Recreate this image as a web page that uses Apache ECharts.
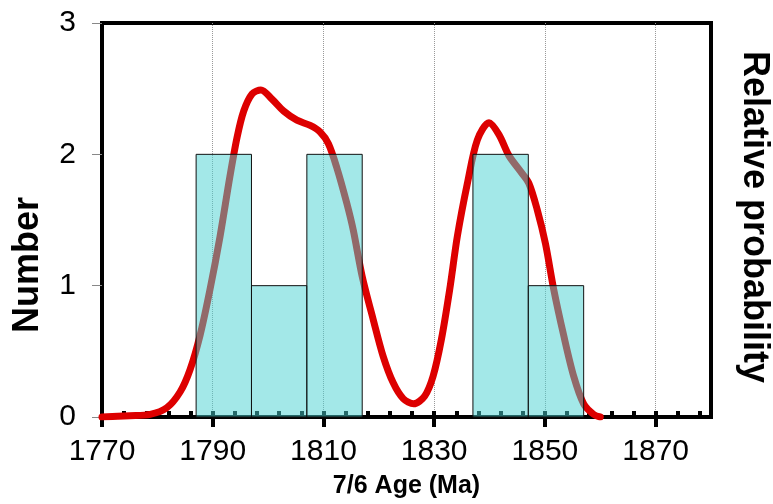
<!DOCTYPE html>
<html>
<head>
<meta charset="utf-8">
<script src="https://cdn.jsdelivr.net/npm/echarts@6/dist/echarts.min.js"></script>
<style>
  html, body { margin: 0; padding: 0; background: #fff; }
  #chart { width: 773px; height: 504px; }
</style>
</head>
<body>
<div id="chart"></div>
<script>
// histogram bins (Ma)
const binStarts = [1787, 1797, 1807, 1837, 1847]
const binEnds = [1797, 1807, 1817, 1847, 1857]
const binCounts = [2, 1, 2, 2, 1]

// relative probability curve
const pdfAges = [1770.0, 1775.0, 1778.7, 1781.7, 1784.1, 1785.9, 1787.7, 1789.5, 1791.3, 1793.1,
  1794.4, 1795.6, 1797.1, 1798.7, 1800.7, 1802.8, 1805.2, 1807.6, 1809.4, 1810.9,
  1812.4, 1814.2, 1815.4, 1817.0, 1819.0, 1820.8, 1822.6, 1824.4, 1826.3, 1828.3,
  1829.8, 1831.3, 1832.8, 1834.2, 1836.0, 1837.8, 1839.9, 1841.7, 1843.5, 1845.6,
  1847.1, 1848.6, 1850.1, 1851.6, 1853.4, 1855.2, 1857.0, 1858.8, 1860.0]
const pdfValues = [0.00, 0.01, 0.02, 0.07, 0.19, 0.36, 0.62, 0.97, 1.37, 1.83,
  2.13, 2.33, 2.46, 2.49, 2.42, 2.33, 2.26, 2.22, 2.17, 2.08,
  1.90, 1.63, 1.42, 1.07, 0.74, 0.46, 0.26, 0.14, 0.10, 0.16,
  0.31, 0.59, 0.97, 1.38, 1.78, 2.11, 2.24, 2.15, 1.99, 1.87,
  1.78, 1.58, 1.32, 0.97, 0.62, 0.31, 0.10, 0.02, 0.00]

// axis ticks
const majorTicks = [1770, 1790, 1810, 1830, 1850, 1870]
const minorTicks = [1774, 1778, 1782, 1786, 1790, 1794, 1798, 1802, 1806, 1810, 1814, 1818,
  1822, 1826, 1830, 1834, 1838, 1842, 1846, 1850, 1854, 1858, 1862, 1866, 1870, 1874, 1878]

const FONT = 'Liberation Sans, Arial, sans-serif'

const chart = echarts.init(document.getElementById('chart'))

const bins = binStarts.map((s, i) => [s, binEnds[i], binCounts[i]])
const pdf = pdfAges.map((a, i) => [a, pdfValues[i]])

const option = {
  animation: false,
  grid: {
    left: 102,
    right: 62,
    top: 23,
    bottom: 87,
    show: true,
    borderColor: '#000',
    borderWidth: 4
  },
  xAxis: [
    {
      type: 'value',
      min: 1770,
      max: 1880,
      name: '7/6 Age (Ma)',
      nameLocation: 'middle',
      nameGap: 57,
      nameTextStyle: { fontFamily: FONT, fontWeight: 'bold', fontSize: 25, color: '#000' },
      axisLine: { lineStyle: { color: '#000', width: 4 } },
      axisTick: { customValues: majorTicks, length: 10, lineStyle: { color: '#000', width: 4 } },
      axisLabel: {
        customValues: majorTicks,
        margin: 20,
        fontFamily: FONT,
        fontSize: 30,
        color: '#000',
        formatter: v => String(v)
      },
      splitLine: { show: true, lineStyle: { color: '#999', width: 1, type: 'dotted' } }
    },
    {
      // inside minor ticks
      type: 'value',
      min: 1770,
      max: 1880,
      position: 'bottom',
      axisLine: { show: false },
      axisTick: { inside: true, customValues: minorTicks, length: 6, lineStyle: { color: '#000', width: 4 } },
      axisLabel: { show: false },
      splitLine: { show: false }
    }
  ],
  yAxis: [
    {
      type: 'value',
      min: 0,
      max: 3,
      interval: 1,
      axisLine: { show: true, lineStyle: { color: '#000', width: 4 } },
      axisTick: { show: true, length: 10, lineStyle: { color: '#888', width: 1 } },
      axisLabel: { margin: 26, fontFamily: FONT, fontSize: 30, color: '#000' },
      splitLine: { show: false }
    },
    {
      type: 'value',
      min: 0,
      max: 3,
      show: false
    }
  ],
  graphic: [
    {
      type: 'text',
      x: 28,
      y: 265,
      rotation: Math.PI / 2,
      style: { text: 'Number', font: 'bold 36px ' + FONT, fill: '#000', align: 'center', verticalAlign: 'middle' }
    },
    {
      type: 'text',
      x: 754,
      y: 217,
      rotation: -Math.PI / 2,
      style: { text: 'Relative probability', font: 'bold 36px ' + FONT, fill: '#000', align: 'center', verticalAlign: 'middle' }
    }
  ],
  series: [
    {
      name: 'Relative probability',
      type: 'line',
      xAxisIndex: 0,
      yAxisIndex: 1,
      z: 1,
      data: pdf,
      smooth: 0.3,
      symbol: 'none',
      lineStyle: { color: '#dd0000', width: 7, cap: 'round', join: 'round' }
    },
    {
      name: 'Number',
      type: 'custom',
      xAxisIndex: 0,
      yAxisIndex: 0,
      z: 3,
      data: bins,
      encode: { x: [0, 1], y: 2 },
      renderItem: (params, api) => {
        const p0 = api.coord([api.value(0), api.value(2)])
        const p1 = api.coord([api.value(1), 0])
        return {
          type: 'rect',
          shape: { x: p0[0], y: p0[1], width: p1[0] - p0[0], height: p1[1] - p0[1] },
          style: { fill: 'rgba(72,210,210,0.5)', stroke: '#111', lineWidth: 1 }
        }
      }
    }
  ]
}

chart.setOption(option)
</script>
</body>
</html>
